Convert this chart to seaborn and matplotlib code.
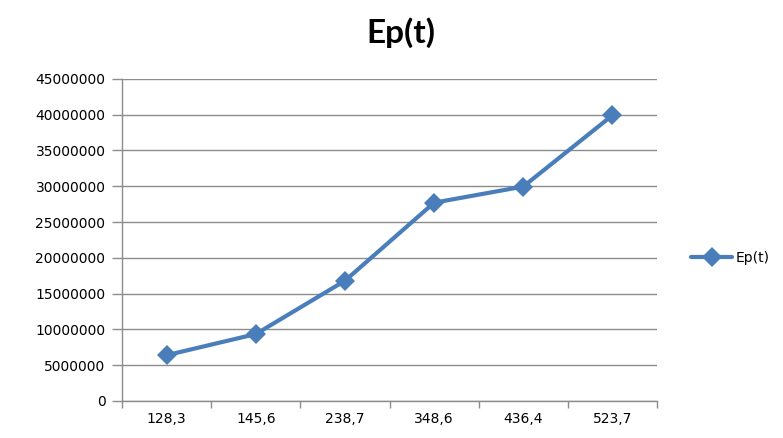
import matplotlib
matplotlib.use("Agg")
import matplotlib.pyplot as plt
import seaborn as sns
import pandas as pd
from matplotlib.ticker import FixedLocator, NullFormatter, FixedFormatter

categories = ["128,3", "145,6", "238,7", "348,6", "436,4", "523,7"]
values = [6400000, 9350000, 16800000, 27700000, 29950000, 39900000]
series_name = "Ep(t)"
y_ticks = list(range(0, 45000001, 5000000))

sns.set_theme(style="white")
plt.rcParams['font.family'] = ['DejaVu Sans']
plt.rcParams['text.color'] = '#000000'

df = pd.DataFrame({"x": list(range(len(categories))), "y": values, "s": series_name})

fig = plt.figure(figsize=(7.83, 4.38), dpi=100)
ax = fig.add_axes([0.156, 0.0845, 0.683, 0.7355])

sns.lineplot(data=df, x="x", y="y", hue="s", palette=["#4A7EBB"], marker="D",
             markersize=10, markeredgewidth=0, linewidth=3, ax=ax, sort=False)

ax.set_xlim(-0.5, len(categories) - 0.5)
ax.set_ylim(0, 45000000)
ax.set_yticks(y_ticks)
ax.set_yticklabels([str(v) for v in y_ticks], fontsize=10, color="#000000")
ax.yaxis.grid(True, color="#8C8C8C", linewidth=1)
ax.set_axisbelow(True)

ax.xaxis.set_major_locator(FixedLocator([i - 0.5 for i in range(len(categories) + 1)]))
ax.xaxis.set_major_formatter(NullFormatter())
ax.xaxis.set_minor_locator(FixedLocator(list(range(len(categories)))))
ax.xaxis.set_minor_formatter(FixedFormatter(categories))
ax.tick_params(axis="x", which="major", length=5, width=1, color="#8C8C8C", direction="out", bottom=True)
ax.tick_params(axis="x", which="minor", length=0, labelsize=10, pad=8, labelcolor="#000000")
ax.tick_params(axis="y", length=7, width=1, color="#8C8C8C", direction="out", left=True, pad=5,
               labelcolor="#000000")

for side in ["top", "right"]:
    ax.spines[side].set_visible(False)
for side in ["left", "bottom"]:
    ax.spines[side].set_color("#8C8C8C")
    ax.spines[side].set_linewidth(1)

ax.set_xlabel("")
ax.set_ylabel("")

fig.text(0.512, 0.925, "Ep(t)", ha="center", va="center", fontsize=24, fontweight="bold",
         color="#000000", family=["Lato", "DejaVu Sans"])

leg = ax.legend(loc="center left", bbox_to_anchor=(1.04, 0.443), frameon=False,
                fontsize=10, handlelength=3, handletextpad=0.2)
for t in leg.get_texts():
    t.set_color("#000000")

fig.savefig("out.png", dpi=100)
